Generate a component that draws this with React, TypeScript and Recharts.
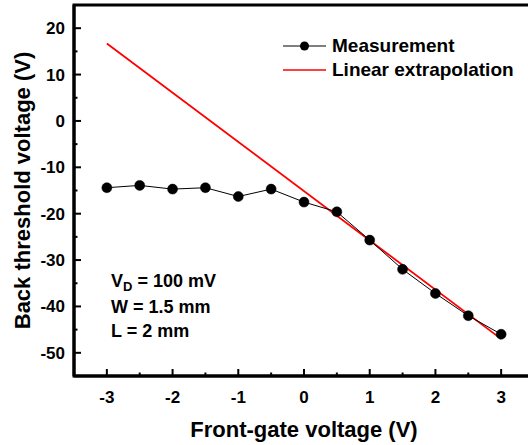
import React from 'react';
import { ComposedChart, Line, XAxis, YAxis, Legend, ReferenceArea } from 'recharts';

// ---- data ----
const frontGate = [-3, -2.5, -2, -1.5, -1, -0.5, 0, 0.5, 1, 1.5, 2, 2.5, 3];
const measured = [-14.4, -13.9, -14.7, -14.4, -16.3, -14.7, -17.5, -19.6, -25.7, -32.0, -37.2, -42.0, -46.0];
const fitX = [-3, 3];
const fitY = [16.7, -47.0];
const xTicks = [-3, -2.5, -2, -1.5, -1, -0.5, 0, 0.5, 1, 1.5, 2, 2.5, 3];
const yTicks = [-50, -45, -40, -35, -30, -25, -20, -15, -10, -5, 0, 5, 10, 15, 20];
const xDomain = [-3.5, 3.5];
const yDomain = [-55, 25];
const xTitle = 'Front-gate voltage (V)';
const yTitle = 'Back threshold voltage (V)';
const seriesNames = ['Measurement', 'Linear extrapolation'];
const noteLines = ['W = 1.5 mm', 'L = 2 mm'];

const measData = frontGate.map((x, i) => ({ x, y: measured[i] }));
const fitData = fitX.map((x, i) => ({ x, y: fitY[i] }));

const FONT = '"Liberation Sans", Arial, Helvetica, sans-serif';

const xMajor = (v: number) => Math.abs(v - Math.round(v)) < 1e-9;
const yMajor = (v: number) => Math.abs(v % 10) < 1e-9;

function makeTick(side: string, major: (v: number) => boolean, showLabel: boolean) {
  return (props: any) => {
    const { x, y, payload } = props;
    const v = payload.value;
    const len = major(v) ? 7 : 3.5;
    let x2 = x;
    let y2 = y;
    if (side === 'bottom') y2 = y - len;
    if (side === 'top') y2 = y + len;
    if (side === 'left') x2 = x + len;
    if (side === 'right') x2 = x - len;
    return (
      <g>
        <line x1={x} y1={y} x2={x2} y2={y2} stroke="#000" strokeWidth={2} />
        {showLabel && major(v) && side === 'bottom' && (
          <text x={x} y={y + 27} textAnchor="middle" fontFamily={FONT} fontWeight={700} fontSize={17} fill="#000">
            {v}
          </text>
        )}
        {showLabel && major(v) && side === 'left' && (
          <text x={x - 9} y={y + 6} textAnchor="end" fontFamily={FONT} fontWeight={700} fontSize={17} fill="#000">
            {v}
          </text>
        )}
      </g>
    );
  };
}

const YTitle = () => (
  <text
    transform="translate(30,190.5) rotate(-90)"
    textAnchor="middle"
    fontFamily={FONT}
    fontWeight={700}
    fontSize={22}
    fill="#000"
  >
    {yTitle}
  </text>
);

const LegendBox = () => (
  <div style={{ fontFamily: FONT, fontWeight: 700, fontSize: 19, color: '#000', lineHeight: '24px' }}>
    <div style={{ display: 'flex', alignItems: 'center', height: 24 }}>
      <svg width={43} height={12} style={{ display: 'block' }}>
        <line x1={0} y1={6} x2={43} y2={6} stroke="#000" strokeWidth={1} />
        <circle cx={21.5} cy={6} r={4.5} fill="#000" />
      </svg>
      <span style={{ marginLeft: 6 }}>{seriesNames[0]}</span>
    </div>
    <div style={{ display: 'flex', alignItems: 'center', height: 24 }}>
      <svg width={43} height={12} style={{ display: 'block' }}>
        <line x1={0} y1={6} x2={43} y2={6} stroke="#ff0000" strokeWidth={1.5} />
      </svg>
      <span style={{ marginLeft: 6 }}>{seriesNames[1]}</span>
    </div>
  </div>
);

const axisLine = { stroke: '#000', strokeWidth: 3 };

export default function App() {
  return (
    <div style={{ position: 'absolute', left: 0, top: 0, width: 528, height: 445, overflow: 'hidden', background: '#fff' }}>
      <div style={{ position: 'relative', width: 545, height: 445 }}>
        <ComposedChart width={545} height={445} margin={{ top: 5, right: 11, bottom: 39, left: 0 }}>
          <XAxis
            xAxisId="b"
            type="number"
            dataKey="x"
            orientation="bottom"
            domain={xDomain}
            ticks={xTicks}
            interval={0}
            height={30}
            tickSize={0}
            tickMargin={0}
            tickLine={false}
            stroke="#000"
            strokeWidth={3}
            axisLine={axisLine}
            tick={makeTick('bottom', xMajor, true)}
            allowDataOverflow
            label={{ value: xTitle, position: 'bottom', offset: 15, style: { fontFamily: FONT, fontWeight: 700, fontSize: 22, fill: '#000' } }}
          />
          <XAxis
            xAxisId="t"
            type="number"
            dataKey="x"
            orientation="top"
            domain={xDomain}
            ticks={xTicks}
            interval={0}
            height={0}
            tickSize={0}
            tickMargin={0}
            tickLine={false}
            stroke="#000"
            strokeWidth={3}
            axisLine={axisLine}
            tick={makeTick('top', xMajor, false)}
            allowDataOverflow
          />
          <YAxis
            yAxisId="l"
            type="number"
            dataKey="y"
            orientation="left"
            domain={yDomain}
            ticks={yTicks}
            interval={0}
            width={74}
            tickSize={0}
            tickMargin={0}
            tickLine={false}
            stroke="#000"
            strokeWidth={3}
            axisLine={axisLine}
            tick={makeTick('left', yMajor, true)}
            allowDataOverflow
            label={<YTitle />}
          />
          <YAxis
            yAxisId="r"
            type="number"
            dataKey="y"
            orientation="right"
            domain={yDomain}
            ticks={yTicks}
            interval={0}
            width={0}
            tickSize={0}
            tickMargin={0}
            tickLine={false}
            stroke="#000"
            strokeWidth={3}
            axisLine={axisLine}
            tick={makeTick('right', yMajor, false)}
            allowDataOverflow
          />
          <ReferenceArea
            xAxisId="b"
            yAxisId="l"
            x1={xDomain[0]}
            x2={xDomain[1]}
            y1={yDomain[0]}
            y2={yDomain[1]}
            fill="none"
            fillOpacity={0}
            stroke="#000"
            strokeWidth={3}
            ifOverflow="visible"
          />
          <Line
            xAxisId="b"
            yAxisId="l"
            data={fitData}
            dataKey="y"
            name={seriesNames[1]}
            stroke="#ff0000"
            strokeWidth={1.8}
            dot={false}
            isAnimationActive={false}
          />
          <Line
            xAxisId="b"
            yAxisId="l"
            data={measData}
            dataKey="y"
            name={seriesNames[0]}
            stroke="#000"
            strokeWidth={1}
            dot={{ r: 5, fill: '#000', stroke: '#000', strokeWidth: 0.5 }}
            isAnimationActive={false}
          />
          <Legend
            layout="horizontal"
            verticalAlign="middle"
            align="center"
            content={<LegendBox />}
            wrapperStyle={{ position: 'absolute', left: 283, top: 34, width: 'auto', height: 'auto' }}
          />
        </ComposedChart>
        <div
          style={{
            position: 'absolute',
            left: 111,
            top: 269,
            fontFamily: FONT,
            fontWeight: 700,
            fontSize: 18,
            lineHeight: '24px',
            color: '#000',
            whiteSpace: 'nowrap',
          }}
        >
          <div>
            V<sub style={{ fontSize: 13, verticalAlign: 'baseline', position: 'relative', top: 4 }}>D</sub> = 100 mV
          </div>
          {noteLines.map((t) => (
            <div key={t}>{t}</div>
          ))}
        </div>
      </div>
    </div>
  );
}
